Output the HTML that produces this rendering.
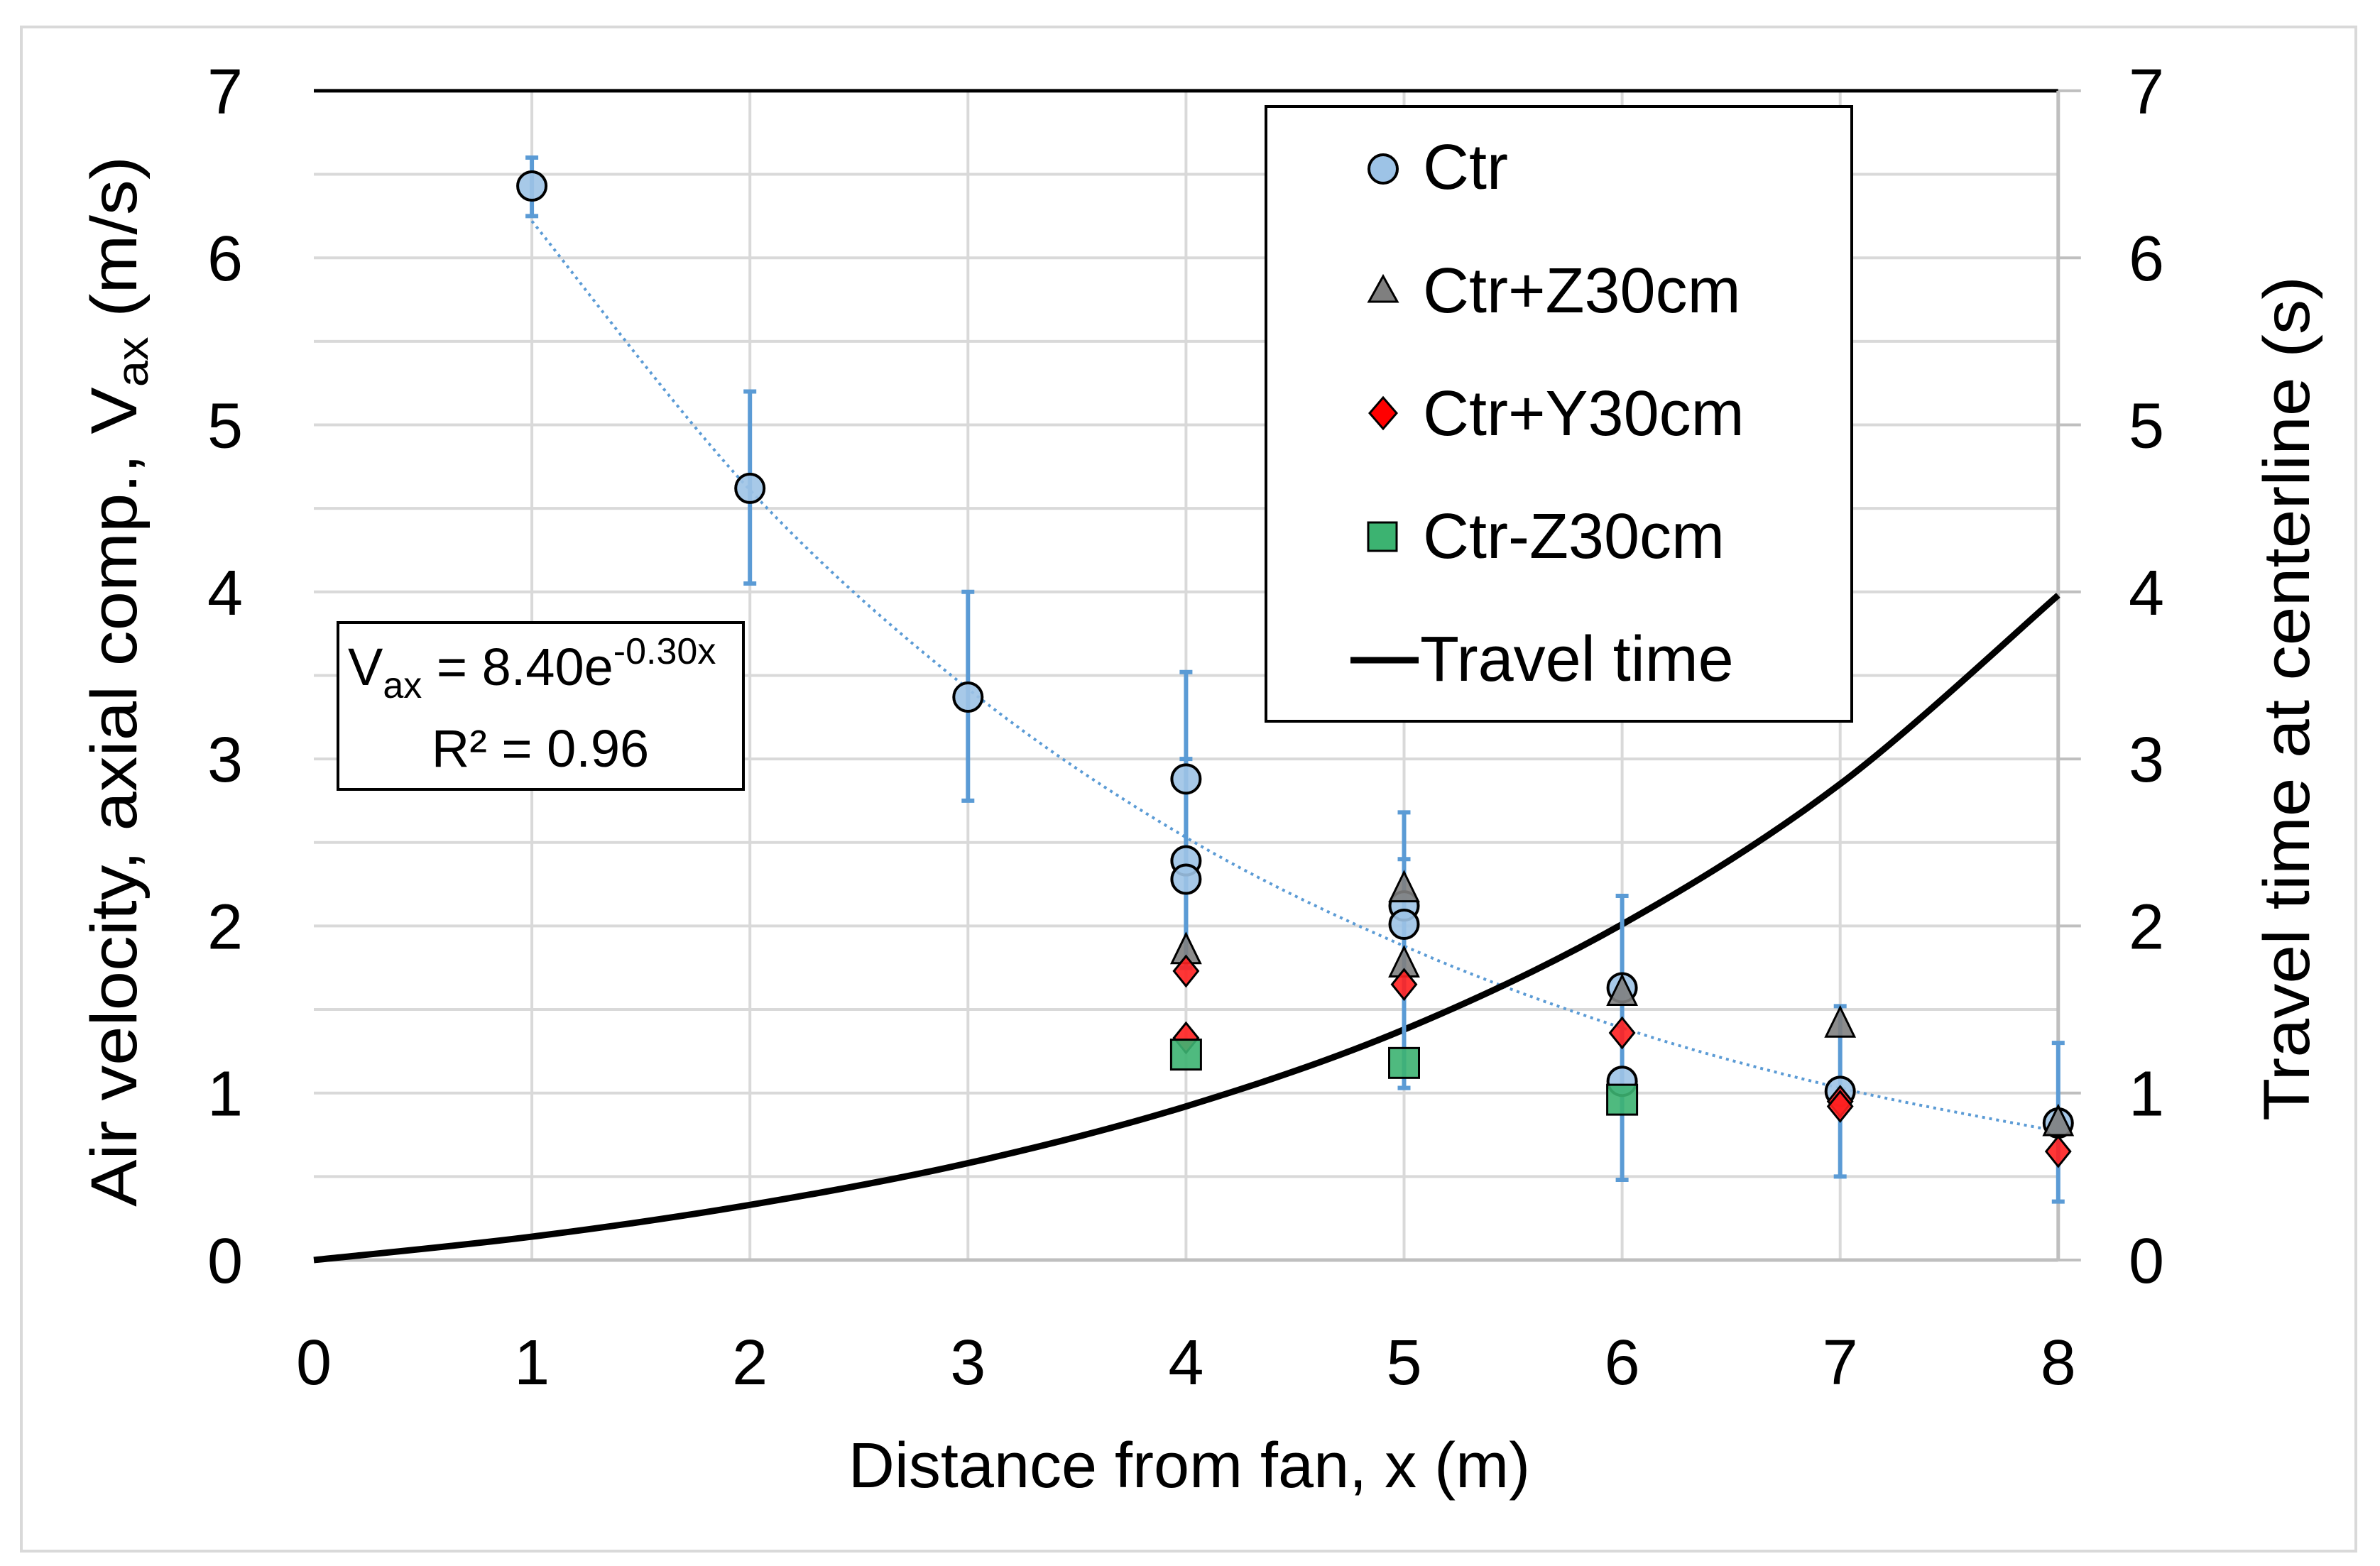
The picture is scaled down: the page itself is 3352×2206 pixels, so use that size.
<!DOCTYPE html>
<html><head><meta charset="utf-8"><style>
html,body{margin:0;padding:0;background:#fff;}
svg{display:block;font-family:"Liberation Sans",sans-serif;}
</style></head><body>
<svg id="chart" width="3352" height="2206" viewBox="0 0 3352 2206">
<rect x="30" y="38" width="3288" height="2147" fill="#fff" stroke="#d9d9d9" stroke-width="4"/>
<g id="grid"></g>
<g id="axes"></g>
<g id="series"></g>
<g>
<rect x="476" y="877" width="571" height="235" fill="#fff" stroke="#000" stroke-width="4"/>
<text x="490" y="965" font-size="74">V<tspan font-size="52" dy="18">ax</tspan><tspan dy="-18"> = 8.40e</tspan><tspan font-size="52" dy="-30">-0.30x</tspan></text>
<text x="761" y="1080" font-size="74" text-anchor="middle">R² = 0.96</text>
</g>
<g>
<rect x="1783" y="150" width="825" height="866" fill="#fff" stroke="#000" stroke-width="4"/>
<circle cx="1948" cy="238" r="20" fill="#9dc3e6" stroke="#000" stroke-width="4"/>
<text x="2004" y="266" font-size="90">Ctr</text>
<polygon points="1948,389 1928,425 1968,425" fill="#7f7f7f" stroke="#000" stroke-width="3"/>
<text x="2004" y="440" font-size="90">Ctr+Z30cm</text>
<polygon points="1948,560 1967,582 1948,604 1929,582" fill="#ff0000" stroke="#000" stroke-width="3"/>
<text x="2004" y="613" font-size="90">Ctr+Y30cm</text>
<rect x="1927" y="736" width="40" height="40" fill="#3cb371" stroke="#000" stroke-width="3"/>
<text x="2004" y="786" font-size="90">Ctr-Z30cm</text>
<line x1="1902" y1="930" x2="1998" y2="930" stroke="#000" stroke-width="9"/>
<text x="2000" y="959" font-size="90">Travel time</text>
</g>
<text x="1675" y="2095" font-size="90" text-anchor="middle">Distance from fan, x (m)</text>
<text transform="translate(192,960) rotate(-90)" font-size="92" text-anchor="middle" textLength="1480" lengthAdjust="spacingAndGlyphs">Air velocity, axial comp., V<tspan font-size="62" dy="16">ax</tspan><tspan dy="-16">  (m/s)</tspan></text>
<text transform="translate(3252,984) rotate(-90)" font-size="92" text-anchor="middle" textLength="1190" lengthAdjust="spacingAndGlyphs">Travel time at centerline (s)</text>
</svg>
<script>
const xTicks=[0,1,2,3,4,5,6,7,8];
const yTicks=[0,1,2,3,4,5,6,7];
const ctrX=[1,2,3,4,4,4,5,5,6,6,7,8];
const ctrY=[6.43,4.62,3.37,2.88,2.39,2.28,2.12,2.01,1.63,1.07,1.01,0.82];
const z30X=[4,5,5,6,7,8];
const z30Y=[1.85,2.22,1.77,1.6,1.41,0.82];
const y30X=[4,4,5,6,7,7,8];
const y30Y=[1.73,1.33,1.65,1.36,0.95,0.92,0.65];
const zm30X=[4,5,6];
const zm30Y=[1.23,1.18,0.96];
const errX=[1,2,3,4,4,5,5,6,7,8];
const errLo=[6.25,4.05,2.75,1.75,1.75,1.03,1.03,0.48,0.5,0.35];
const errHi=[6.6,5.2,4.0,3.52,3.0,2.68,2.4,2.18,1.52,1.3];
const trendX=[1,2,3,4,5,6,7,8];
const trendY=[6.22,4.61,3.42,2.53,1.88,1.39,1.03,0.77];
const travelX=[0,1,2,3,4,5,6,7,8];
const travelY=[0,0.14,0.33,0.58,0.92,1.38,2.01,2.85,3.98];

const NS="http://www.w3.org/2000/svg";
const X0=442,XU=307.1,Y0=1775,YU=235.3;
const sx=v=>X0+v*XU, sy=v=>Y0-v*YU;
function mk(tag,attrs,parent){const e=document.createElementNS(NS,tag);for(const k in attrs)e.setAttribute(k,attrs[k]);document.getElementById(parent).appendChild(e);return e;}
function smooth(xs,ys){let p=xs.map((x,i)=>[sx(x),sy(ys[i])]);let d="M"+p[0][0]+","+p[0][1];
for(let i=0;i<p.length-1;i++){const a=p[i-1]||p[i],b=p[i],c=p[i+1],e=p[i+2]||c;
d+=" C"+(b[0]+(c[0]-a[0])/6)+","+(b[1]+(c[1]-a[1])/6)+" "+(c[0]-(e[0]-b[0])/6)+","+(c[1]-(e[1]-b[1])/6)+" "+c[0]+","+c[1];}return d;}

for(let v=0.5;v<7;v+=0.5){const l=mk('line',{x1:sx(0),x2:sx(8),y1:sy(v),y2:sy(v),stroke:'#d9d9d9','stroke-width':4},'grid');

}
xTicks.forEach(t=>{if(t===0)return;const l=mk('line',{x1:sx(t),x2:sx(t),y1:sy(0),y2:sy(7),stroke:'#d9d9d9','stroke-width':4},'grid');

});
let a=mk('line',{x1:sx(0),x2:sx(8),y1:sy(0),y2:sy(0),stroke:'#bfbfbf','stroke-width':5},'axes');


a=mk('line',{x1:sx(0),x2:sx(8),y1:sy(7),y2:sy(7),stroke:'#000','stroke-width':5},'axes');


a=mk('line',{x1:sx(8),x2:sx(8),y1:sy(0),y2:sy(7),stroke:'#bfbfbf','stroke-width':5},'axes');


xTicks.forEach(t=>{const e=mk('text',{x:sx(t),y:1950,'font-size':90,'text-anchor':'middle'},'axes');e.textContent=t;

});
yTicks.forEach(t=>{const e=mk('text',{x:342,y:sy(t)+32,'font-size':90,'text-anchor':'end'},'axes');e.textContent=t;


const e2=mk('text',{x:2998,y:sy(t)+32,'font-size':90,'text-anchor':'start'},'axes');e2.textContent=t;


const tk=mk('line',{x1:sx(8),x2:sx(8)+32,y1:sy(t),y2:sy(t),stroke:'#bfbfbf','stroke-width':4},'axes');

});
let tr=mk('path',{d:smooth(trendX,trendY),fill:'none',stroke:'#5b9bd5','stroke-width':4,'stroke-dasharray':'4 6'},'series');


let tt=mk('path',{d:smooth(travelX,travelY),fill:'none',stroke:'#000','stroke-width':9},'series');


errX.forEach((x,i)=>{const l=mk('line',{x1:sx(x),x2:sx(x),y1:sy(errLo[i]),y2:sy(errHi[i]),stroke:'#5b9bd5','stroke-width':6},'series');


[errLo[i],errHi[i]].forEach(v=>{const c=mk('line',{x1:sx(x)-9,x2:sx(x)+9,y1:sy(v),y2:sy(v),stroke:'#5b9bd5','stroke-width':6},'series');

});});
ctrX.forEach((x,i)=>{const c=mk('circle',{cx:sx(x),cy:sy(ctrY[i]),r:20,fill:'#9dc3e6',stroke:'#000','stroke-width':4,'fill-opacity':0.9},'series');

});
z30X.forEach((x,i)=>{const X=sx(x),Y=sy(z30Y[i]);const p=mk('polygon',{points:`${X},${Y-24} ${X-20},${Y+17} ${X+20},${Y+17}`,fill:'#7f7f7f',stroke:'#000','stroke-width':3,'fill-opacity':0.9},'series');

});
y30X.forEach((x,i)=>{const X=sx(x),Y=sy(y30Y[i]);const p=mk('polygon',{points:`${X},${Y-21} ${X+17},${Y} ${X},${Y+21} ${X-17},${Y}`,fill:'#ff2020',stroke:'#000','stroke-width':3,'fill-opacity':0.9},'series');

});
zm30X.forEach((x,i)=>{const X=sx(x),Y=sy(zm30Y[i]);const p=mk('rect',{x:X-21,y:Y-21,width:42,height:42,fill:'#3cb371',stroke:'#000','stroke-width':3,'fill-opacity':0.9},'series');

});
</script>
</body></html>
